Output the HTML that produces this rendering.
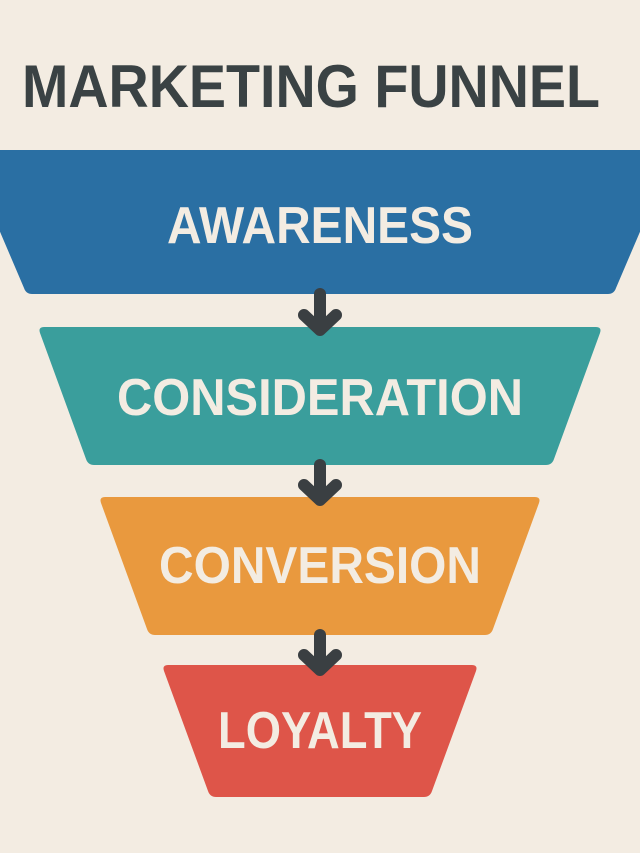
<!DOCTYPE html>
<html><head><style>
html,body{margin:0;padding:0;background:#f3ece2;}
svg{display:block;}
</style></head><body>
<svg width="640" height="853" viewBox="0 0 640 853" xmlns="http://www.w3.org/2000/svg">
<rect width="640" height="853" fill="#f3ece2"/>
<text x="22" y="107" font-family="Liberation Sans, sans-serif" font-weight="bold" font-size="60" fill="#3a4244" textLength="578" lengthAdjust="spacingAndGlyphs">MARKETING FUNNEL</text>
<path d="M-5 150 L645 150 L645 220 L616 288 Q614 294 608 294 L32 294 Q26 294 24 288 L-5 220 Z" fill="#2a6fa3"/>
<text x="320" y="243" text-anchor="middle" font-family="Liberation Sans, sans-serif" font-weight="bold" font-size="52" fill="#f3ece2" textLength="306" lengthAdjust="spacingAndGlyphs">AWARENESS</text>
<path d="M44 327 L596 327 Q602 327 600 333 L554 459 Q552 465 546 465 L94 465 Q88 465 86 459 L40 333 Q38 327 44 327 Z" fill="#3a9e9c"/>
<text x="320" y="415" text-anchor="middle" font-family="Liberation Sans, sans-serif" font-weight="bold" font-size="52" fill="#f3ece2" textLength="406" lengthAdjust="spacingAndGlyphs">CONSIDERATION</text>
<path d="M105 497 L535 497 Q541 497 539 503 L493 629 Q491 635 485 635 L155 635 Q149 635 147 629 L101 503 Q99 497 105 497 Z" fill="#e9993e"/>
<text x="320" y="583" text-anchor="middle" font-family="Liberation Sans, sans-serif" font-weight="bold" font-size="52" fill="#f3ece2" textLength="322" lengthAdjust="spacingAndGlyphs">CONVERSION</text>
<path d="M168 665 L472 665 Q478 665 476 671 L432 791 Q430 797 424 797 L216 797 Q210 797 208 791 L164 671 Q162 665 168 665 Z" fill="#de5549"/>
<text x="320" y="748" text-anchor="middle" font-family="Liberation Sans, sans-serif" font-weight="bold" font-size="52" fill="#f3ece2" textLength="204" lengthAdjust="spacingAndGlyphs">LOYALTY</text>
<g stroke="#3a3f42" stroke-width="12" stroke-linecap="round" stroke-linejoin="round" fill="none">
<line x1="320" y1="294" x2="320" y2="326"/><polyline points="304,315 320,330 336,315"/>
<line x1="320" y1="465" x2="320" y2="496"/><polyline points="304,485 320,500 336,485"/>
<line x1="320" y1="635" x2="320" y2="666"/><polyline points="304,655 320,670 336,655"/>
</g>
</svg>
</body></html>
